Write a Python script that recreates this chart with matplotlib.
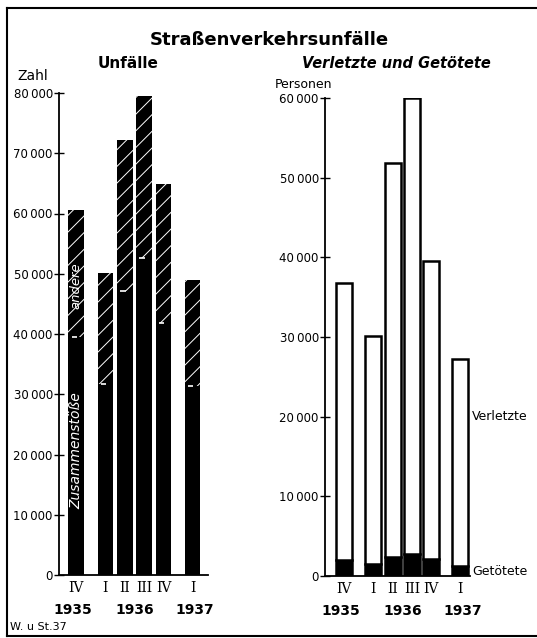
import numpy as np
import matplotlib
matplotlib.use("Agg")
import matplotlib.pyplot as plt
from matplotlib.ticker import FuncFormatter
from matplotlib.lines import Line2D

# quarters shown on both panels
quarters = ['IV', 'I', 'II', 'III', 'IV', 'I']
years = ['1935', '1936', '1937']

# Unfälle (Zahl)
collisions = [39500, 31700, 47100, 52600, 41800, 31400]   # Zusammenstöße
other = [21100, 18400, 25100, 26900, 23100, 17600]         # andere

# Verletzte und Getötete (Personen)
killed = [2000, 1500, 2400, 2800, 2100, 1300]              # Getötete
injured = [34800, 28600, 49400, 57200, 37400, 26000]       # Verletzte

# layout: gap between the years is wider
xpos = np.array([0, 1.5, 2.5, 3.5, 4.5, 6])
year_x = [-0.2, 3.0, 6.1]
width = 0.82

plt.rcParams['font.family'] = 'DejaVu Sans'
plt.rcParams['hatch.linewidth'] = 0.7

fig = plt.figure(figsize=(5.37, 6.38), dpi=100)

def fmt(v, pos):
    if v == 0:
        return '0'
    return f"{int(v):,}".replace(',', '\u2009')

def style_axis(ax, ymax, step):
    ax.set_ylim(0, ymax)
    ax.set_yticks(np.arange(0, ymax + 1, step))
    ax.yaxis.set_major_formatter(FuncFormatter(fmt))
    ax.spines['top'].set_visible(False)
    ax.spines['right'].set_visible(False)
    ax.spines['left'].set_linewidth(1.3)
    ax.spines['bottom'].set_linewidth(1.3)
    ax.tick_params(axis='y', direction='inout', length=7, width=1, labelsize=8.5, pad=1)
    ax.tick_params(axis='x', length=0, pad=4)
    ax.set_xticks(xpos)
    ax.set_xticklabels(quarters, family='DejaVu Serif', fontsize=10)
    for x, y in zip(year_x, years):
        ax.text(x, -0.073, y, transform=ax.get_xaxis_transform(),
                ha='center', va='center', fontsize=10, fontweight='bold')

# left panel: Unfälle
ax1 = fig.add_axes([59 / 537, 1 - 575 / 638, 149 / 537, 482 / 638])
ax1.bar(xpos, collisions, width=width, color='black', linewidth=0)
ax1.bar(xpos, other, bottom=collisions, width=width, color='black',
        edgecolor='white', hatch='//', linewidth=0)
ax1.hlines(collisions, xpos - width * 0.3, xpos + width * 0.05, color='white', lw=1.2)
ax1.set_xlim(-0.9, 6.8)
style_axis(ax1, 80000, 10000)
ax1.text(xpos[0], 48000, 'andere', rotation=90, color='white', style='italic',
         ha='center', va='center', fontsize=9.5)
ax1.text(xpos[0], 20700, 'Zusammenstöße', rotation=90, color='white', style='italic',
         ha='center', va='center', fontsize=10)

# right panel: Verletzte und Getötete
ax2 = fig.add_axes([325 / 537, 1 - 576 / 638, 145 / 537, 478 / 638])
ax2.bar(xpos, killed, width=width, color='black', edgecolor='black', linewidth=1.8)
ax2.bar(xpos, injured, bottom=killed, width=width, color='white',
        edgecolor='black', linewidth=1.8)
ax2.set_xlim(-1.0, 6.5)
style_axis(ax2, 60000, 10000)
ax2.text(6.6, 20000, 'Verletzte', ha='left', va='center', fontsize=9)
ax2.text(6.6, killed[-1] * 0.4, 'Getötete', ha='left', va='center', fontsize=9)

# titles and labels
fig.text(269 / 537, 1 - 40 / 638, 'Straßenverkehrsunfälle', ha='center', va='center',
         fontsize=13, fontweight='bold')
fig.text(128 / 537, 1 - 64 / 638, 'Unfälle', ha='center', va='center',
         fontsize=11, fontweight='bold')
fig.text(396 / 537, 1 - 64 / 638, 'Verletzte und Getötete', ha='center', va='center',
         fontsize=10.5, fontweight='bold', style='italic')
fig.text(17 / 537, 1 - 76 / 638, 'Zahl', ha='left', va='center', fontsize=10)
fig.text(275 / 537, 1 - 84 / 638, 'Personen', ha='left', va='center', fontsize=9)
fig.text(10 / 537, 1 - 627 / 638, 'W. u St.37', ha='left', va='center', fontsize=8)

# frame round the picture (open on the right)
fx0, fy0, fy1 = 7 / 537, 1 - 636 / 638, 1 - 8 / 638
for xs, ys in [([fx0, 1], [fy1, fy1]), ([fx0, fx0], [fy0, fy1]), ([fx0, 1], [fy0, fy0])]:
    fig.add_artist(Line2D(xs, ys, transform=fig.transFigure, color='black', lw=1.5))

fig.savefig('out.png', dpi=100)
